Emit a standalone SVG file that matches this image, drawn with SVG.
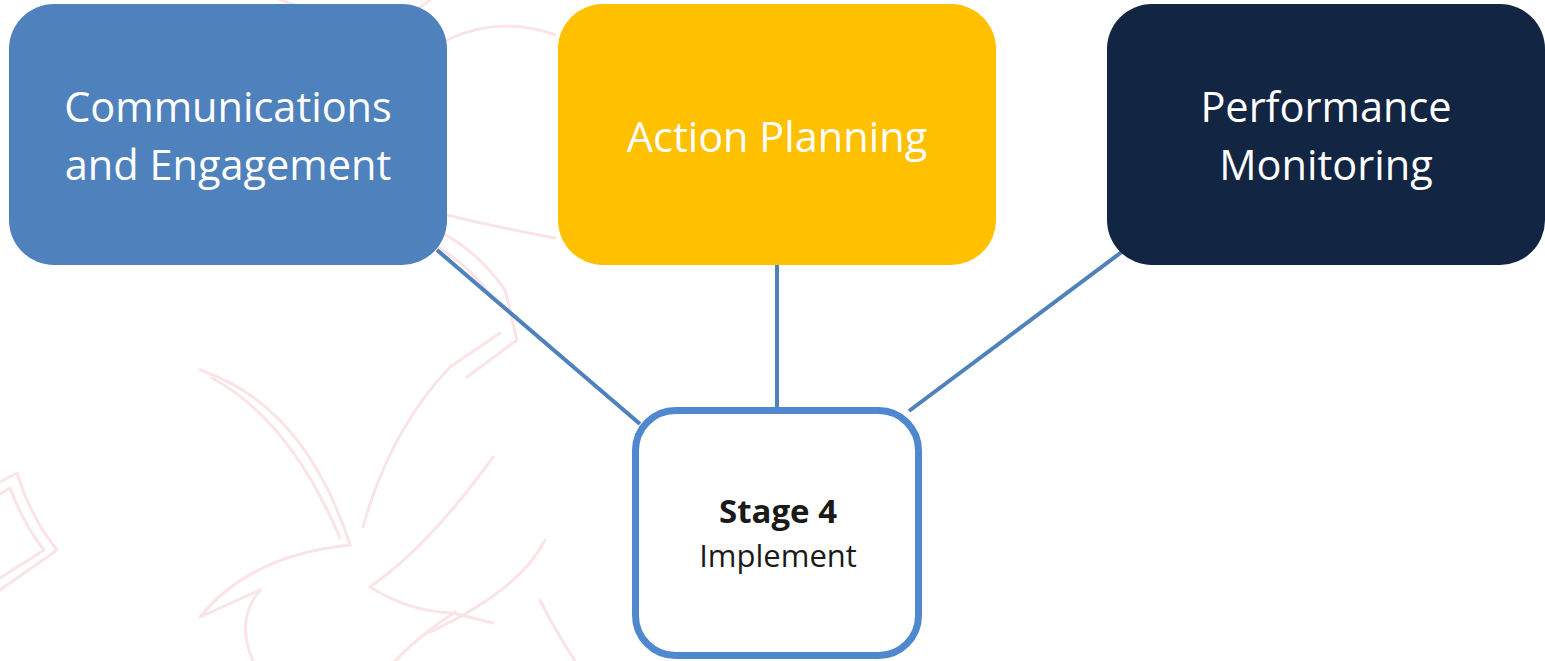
<svg xmlns="http://www.w3.org/2000/svg" width="1545" height="661" viewBox="0 0 1545 661">
<style>
.wm{fill:none;stroke:#FAE4E6;stroke-width:3;stroke-linejoin:round;stroke-linecap:round}
.big{font-family:"Open Sans","Liberation Sans",sans-serif;font-size:41.5px;fill:#FFFFFF;text-anchor:middle}
.small{font-family:"Open Sans","Liberation Sans",sans-serif;fill:#1A1A1A;text-anchor:middle}
.conn{stroke:#4F81BD;stroke-width:4;fill:none}
</style>
<rect width="1545" height="661" fill="#FFFFFF"/>
<g id="watermark">
<path class="wm" d="M0 482 L17 473 Q32 520 57 550 L0 590"/>
<path class="wm" d="M0 494 L10 488 Q24 525 44 550 L0 578"/>
<path class="wm" d="M200 370 Q305 405 350 545"/>
<path class="wm" d="M212 378 Q290 420 340 538"/>
<path class="wm" d="M350 545 Q250 555 200 617 L260 590"/>
<path class="wm" d="M260 590 Q235 620 253 661"/>
<path class="wm" d="M363 527 Q390 430 450 367 L500 333"/>
<path class="wm" d="M370 587 Q430 545 493 457"/>
<path class="wm" d="M370 587 Q410 612 453 613 L493 623"/>
<path class="wm" d="M455 612 Q420 635 395 661"/>
<path class="wm" d="M380 213 Q460 225 505 290 L517 340 L467 377"/>
<path class="wm" d="M385 228 Q450 240 490 295"/>
<path class="wm" d="M360 70 Q395 25 430 0"/>
<path class="wm" d="M280 0 Q320 12 345 28"/>
<path class="wm" d="M447 40 Q500 15 555 35"/>
<path class="wm" d="M447 215 Q500 228 555 238"/>
<path class="wm" d="M545 540 Q520 590 430 632"/>
<path class="wm" d="M540 600 Q555 630 575 661"/>
</g>
<g id="connectors">
<line class="conn" x1="437" y1="250" x2="640" y2="424"/>
<line class="conn" x1="777" y1="265" x2="777" y2="410"/>
<line class="conn" x1="1127" y1="248" x2="909" y2="411"/>
</g>
<g id="node-comms">
<rect x="9" y="4" width="438" height="261" rx="45" ry="45" fill="#4F81BD"/>
<text class="big" x="228" y="122">Communications</text>
<text class="big" x="228" y="180">and Engagement</text>
</g>
<g id="node-action">
<rect x="558" y="4" width="438" height="261" rx="45" ry="45" fill="#FFC000"/>
<text class="big" x="777" y="152">Action Planning</text>
</g>
<g id="node-perf">
<rect x="1107" y="4" width="438" height="261" rx="45" ry="45" fill="#122542"/>
<text class="big" x="1326" y="122">Performance</text>
<text class="big" x="1326" y="180">Monitoring</text>
</g>
<g id="node-stage4">
<rect x="635.5" y="410.5" width="283" height="245" rx="40" ry="40" fill="#FFFFFF" stroke="#4F88CF" stroke-width="7"/>
<text class="small" x="778" y="523" font-size="33" font-weight="bold">Stage 4</text>
<text class="small" x="778" y="567" font-size="31">Implement</text>
</g>
</svg>
